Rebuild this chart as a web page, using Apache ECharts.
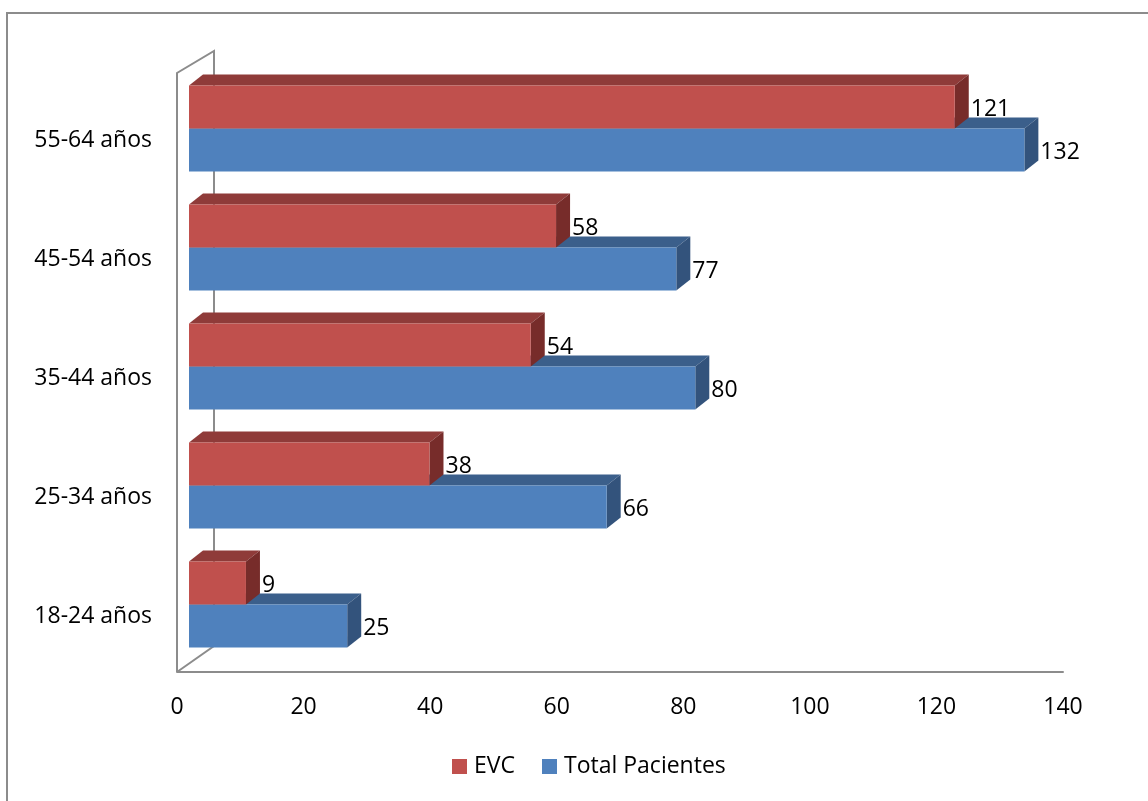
<!DOCTYPE html>
<html>
<head>
<meta charset="utf-8">
<script src="https://cdn.jsdelivr.net/npm/echarts@6/dist/echarts.min.js"></script>
<style>
html,body{margin:0;padding:0;background:#fff;}
#chart{width:1148px;height:801px;}
</style>
</head>
<body>
<div id="chart"></div>
<script>
// ---- data ----
const categories = ['18-24 años', '25-34 años', '35-44 años', '45-54 años', '55-64 años'];
const evcValues = [9, 38, 54, 58, 121];
const totalValues = [25, 66, 80, 77, 132];
const xTicks = [0, 20, 40, 60, 80, 100, 120, 140];
const seriesNames = ['EVC', 'Total Pacientes'];

const FONT = "'Open Sans', 'Liberation Sans', sans-serif";
const FS = 23;

const palettes = {
  'EVC': { front: '#C0504D', top: '#8F3B39', side: '#772C2A' },
  'Total Pacientes': { front: '#4F81BD', top: '#3B5F8B', side: '#33537C' }
};

const DX = 14, DY = -11;     // bar depth
const SHIFT_X = 12, SHIFT_Y = -8; // bar placement inside the 3D box

function makeRender(name, upper) {
  const pal = palettes[name];
  return function (params, api) {
    const cat = api.value(1);
    const val = api.value(0);
    const p0 = api.coord([0, cat]);
    const p1 = api.coord([val, cat]);
    const band = api.size([0, 1])[1];
    const barH = band * 43 / 119;
    const x0 = p0[0] + SHIFT_X;
    const x1 = p1[0] + SHIFT_X;
    const mid = p0[1] + SHIFT_Y;
    const y0 = upper ? mid - barH : mid;
    const y1 = upper ? mid : mid + barH;
    return {
      type: 'group',
      children: [
        { type: 'polygon', shape: { points: [[x0, y0], [x0 + DX, y0 + DY], [x1 + DX, y0 + DY], [x1, y0]] },
          style: { fill: pal.top } },
        { type: 'polygon', shape: { points: [[x1, y0], [x1 + DX, y0 + DY], [x1 + DX, y1 + DY], [x1, y1]] },
          style: { fill: pal.side } },
        { type: 'rect', shape: { x: x0, y: y0, width: x1 - x0, height: y1 - y0 },
          style: { fill: pal.front } },
        { type: 'text', x: x1 + 16, y: (y0 + y1) / 2 + 2,
          style: { text: String(val), fill: '#000', font: FS + 'px ' + FONT, align: 'left', verticalAlign: 'middle' } }
      ]
    };
  };
}

const evcData = evcValues.map((v, i) => [v, i]);
const totalData = totalValues.map((v, i) => [v, i]);

const chart = echarts.init(document.getElementById('chart'), null, { renderer: 'canvas' });
chart.setOption({
  animation: false,
  backgroundColor: '#fff',
  textStyle: { fontFamily: FONT },
  grid: { left: 177, right: 85, top: 77, bottom: 129, containLabel: false },
  xAxis: {
    type: 'value', min: 0, max: 140, interval: 20,
    axisLine: { show: true, lineStyle: { color: '#8c8c8c', width: 2 } },
    axisTick: { show: false },
    splitLine: { show: false },
    axisLabel: { color: '#000', fontSize: FS, fontFamily: FONT, margin: 24,
      formatter: v => xTicks.includes(v) ? String(v) : '' }
  },
  yAxis: {
    type: 'category', data: categories,
    axisLine: { show: false },
    axisTick: { show: false },
    splitLine: { show: false },
    axisLabel: { color: '#000', fontSize: FS, fontFamily: FONT, margin: 25,
      formatter: v => '{a|' + v + '}',
      rich: { a: { color: '#000', fontSize: FS, fontFamily: FONT, padding: [8, 0, 0, 0] } } }
  },
  legend: {
    data: seriesNames,
    left: 452, top: 755, padding: 0,
    icon: 'rect', itemWidth: 15, itemHeight: 15, itemGap: 27,
    textStyle: { color: '#000', fontSize: FS, fontFamily: FONT, padding: [0, 0, 0, 2] }
  },
  graphic: [
    { type: 'rect', z: -10, shape: { x: 7, y: 13, width: 1160, height: 800 },
      style: { fill: 'none', stroke: '#8c8c8c', lineWidth: 2 } },
    { type: 'polyline', z: -5, shape: { points: [[177, 672], [214, 646], [214, 51], [177, 73], [177, 672]] },
      style: { fill: 'none', stroke: '#8c8c8c', lineWidth: 2 } }
  ],
  series: [
    { name: 'EVC', type: 'custom', z: 3, renderItem: makeRender('EVC', true),
      itemStyle: { color: palettes['EVC'].front }, data: evcData, encode: { x: 0, y: 1 } },
    { name: 'Total Pacientes', type: 'custom', z: 2, renderItem: makeRender('Total Pacientes', false),
      itemStyle: { color: palettes['Total Pacientes'].front }, data: totalData, encode: { x: 0, y: 1 } }
  ]
});
</script>
</body>
</html>
